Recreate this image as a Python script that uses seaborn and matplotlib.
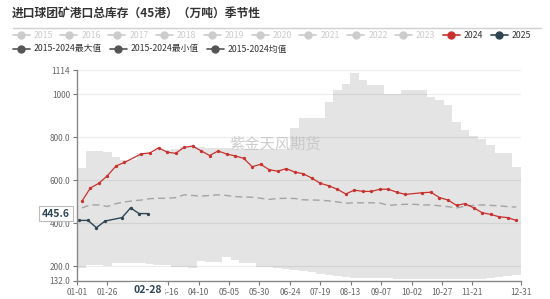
import numpy as np
import pandas as pd
import matplotlib
matplotlib.use("Agg")
import matplotlib.pyplot as plt
import seaborn as sns
from matplotlib.lines import Line2D
from matplotlib.transforms import blended_transform_factory

# ---------------- data ----------------
title = "进口球团矿港口总库存（45港）（万吨）季节性"
watermark = "紫金天风期货"

week_dates = ["01-05", "01-12", "01-19", "01-26", "02-02", "02-09", "02-16", "02-23",
              "03-01", "03-08", "03-15", "03-22", "03-29", "04-05", "04-12", "04-19",
              "04-26", "05-03", "05-10", "05-17", "05-24", "05-31", "06-07", "06-14",
              "06-21", "06-28", "07-05", "07-12", "07-19", "07-26", "08-02", "08-09",
              "08-16", "08-23", "08-30", "09-06", "09-13", "09-20", "09-27", "10-04",
              "10-11", "10-18", "10-25", "11-01", "11-08", "11-15", "11-22", "11-29",
              "12-06", "12-13", "12-20", "12-27"]

max_vals = [659, 737, 737, 733, 707, 695, 695, 730, 730, 740, 740, 745, 755, 755, 755, 752,
            750, 750, 748, 748, 745, 745, 745, 745, 745, 843, 889, 889, 889, 966, 1021, 1049,
            1098, 1067, 1044, 1044, 1001, 1001, 1021, 1021, 1021, 987, 974, 951, 873, 835,
            807, 791, 765, 726, 726, 664]
min_vals = [191, 206, 206, 203, 217, 217, 214, 214, 211, 206, 206, 199, 199, 191, 226, 222,
            222, 242, 230, 217, 217, 199, 199, 191, 188, 185, 180, 172, 165, 160, 155, 150,
            148, 146, 145, 145, 145, 143, 142, 142, 142, 142, 142, 142, 142, 142, 142, 142,
            145, 150, 155, 160]
avg_vals = [472, 486, 486, 479, 492, 500, 505, 509, 515, 517, 517, 520, 533, 530, 527, 530,
            533, 530, 525, 523, 522, 517, 512, 516, 517, 516, 510, 509, 508, 505, 500, 494,
            496, 496, 496, 495, 484, 487, 489, 489, 486, 486, 482, 478, 472, 480, 484, 486,
            484, 482, 478, 476]

dates_2024 = ["01-05", "01-12", "01-19", "01-26", "02-02", "02-09", "02-23",
              "03-01", "03-08", "03-15", "03-22", "03-29", "04-05", "04-12", "04-19",
              "04-26", "05-03", "05-10", "05-17", "05-24", "05-31", "06-07", "06-14",
              "06-21", "06-28", "07-05", "07-12", "07-19", "07-26", "08-02", "08-09",
              "08-16", "08-23", "08-30", "09-06", "09-13", "09-20", "09-27",
              "10-11", "10-18", "10-25", "11-01", "11-08", "11-15", "11-22", "11-29",
              "12-06", "12-13", "12-20", "12-27"]
vals_2024 = [503, 565, 587, 622, 667, 684, 724, 728, 752, 732, 726, 754, 760, 738, 716, 737,
             723, 714, 703, 664, 675, 650, 643, 655, 639, 631, 611, 587, 575, 559, 537, 555,
             549, 549, 559, 559, 545, 535, 543, 545, 520, 509, 484, 492, 473, 450, 442, 431,
             427, 414]

dates_2025 = ["01-03", "01-10", "01-17", "01-24", "02-07", "02-14", "02-21", "02-28"]
vals_2025 = [414, 414, 380, 411, 427, 472, 446, 445.6]

x_tick_dates = ["01-01", "01-26", "02-20", "03-16", "04-10", "05-05", "05-30", "06-24",
                "07-19", "08-13", "09-07", "10-02", "10-27", "11-21", "12-31"]
# the 02-20 label is hidden under the axis-pointer label in the reference
x_tick_labels = ["01-01", "01-26", "", "03-16", "04-10", "05-05", "05-30", "06-24",
                 "07-19", "08-13", "09-07", "10-02", "10-27", "11-21", "12-31"]
y_ticks = [132, 200, 400, 600, 800, 1000, 1114]
y_tick_labels = ["132.0", "200.0", "400.0", "600.0", "800.0", "1000", "1114"]

legend_years = ["2015", "2016", "2017", "2018", "2019", "2020", "2021", "2022", "2023",
                "2024", "2025"]
stat_labels = ["2015-2024最大值", "2015-2024最小值", "2015-2024均值"]
pointer_date = "02-28"
pointer_value = 445.6

# ---------------- helpers ----------------
def doy(mmdd):
    return pd.Timestamp("2024-" + mmdd).dayofyear - 1

# ---------------- style ----------------
sns.set_theme(style="white")
plt.rcParams["font.family"] = ["Noto Sans CJK SC", "DejaVu Sans"]
plt.rcParams["axes.unicode_minus"] = False

W, H = 550, 299
fig = plt.figure(figsize=(W / 100, H / 100), dpi=100)
ax = fig.add_axes([77 / W, 1 - 281 / H, (521 - 77) / W, (281 - 70) / H])

RED = "#c8312e"
NAVY = "#2f4554"
BAND = "#e4e4e4"

# band (max/min) as steps
wx = np.array([doy(d) for d in week_dates], dtype=float)
edges = np.concatenate([[0], (wx[:-1] + wx[1:]) / 2, [365]])
ymax = np.concatenate([max_vals, [max_vals[-1]]])
ymin = np.concatenate([min_vals, [min_vals[-1]]])
ax.fill_between(edges, ymin, ymax, step="post", color=BAND, lw=0, zorder=1)

# grid
for yt in y_ticks:
    ax.axhline(yt, color=(0, 0, 0, 0.07), lw=0.9, zorder=1.5)

# avg dashed
df_avg = pd.DataFrame({"x": wx, "y": avg_vals})
sns.lineplot(data=df_avg, x="x", y="y", ax=ax, color="#a4a4a4", lw=1.0,
             linestyle=(0, (5, 3)), zorder=3)

# 2024
df24 = pd.DataFrame({"x": [doy(d) for d in dates_2024], "y": vals_2024})
sns.lineplot(data=df24, x="x", y="y", ax=ax, color=RED, lw=0.9, marker="o",
             markersize=2.4, markeredgewidth=0, zorder=4)
# 2025
df25 = pd.DataFrame({"x": [doy(d) for d in dates_2025], "y": vals_2025})
sns.lineplot(data=df25, x="x", y="y", ax=ax, color=NAVY, lw=1.0, marker="o",
             markersize=2.4, markeredgewidth=0, zorder=5)

ax.set_xlim(0, 365)
ax.set_ylim(132, 1114)
ax.set_xlabel("")
ax.set_ylabel("")
ax.set_xticks([doy(d) for d in x_tick_dates])
ax.set_xticklabels(x_tick_labels)
ax.set_yticks(y_ticks)
ax.set_yticklabels(y_tick_labels)
ax.tick_params(axis="both", which="both", length=3, width=0.8, color="#777",
               labelcolor="#666", labelsize=6, pad=2, direction="out")
ax.tick_params(axis="y", left=True)
ax.tick_params(axis="x", bottom=True)
for s in ["top", "right"]:
    ax.spines[s].set_visible(False)
for s in ["left", "bottom"]:
    ax.spines[s].set_color("#888")
    ax.spines[s].set_linewidth(1.0)
    ax.spines[s].set_zorder(6)

# axis pointer labels
tr = blended_transform_factory(ax.transAxes, ax.transData)
ax.text(-7 / 444, pointer_value, f"{pointer_value}", transform=tr, ha="right", va="center",
        fontsize=7.5, fontweight="bold", color=NAVY, zorder=10, clip_on=False,
        bbox=dict(boxstyle="square,pad=0.25", fc="white", ec="#bbbbbb", lw=0.8))
tr2 = blended_transform_factory(ax.transData, ax.transAxes)
ax.text(doy(pointer_date), -9 / 211, pointer_date, transform=tr2, ha="center", va="center",
        fontsize=7.5, fontweight="bold", color=NAVY, zorder=10, clip_on=False,
        bbox=dict(boxstyle="square,pad=0.3", fc="white", ec="none"))

# watermark
fig.text(275 / W, 1 - 144 / H, watermark, fontsize=11, color="#c4c4c4", alpha=0.85,
         ha="center", va="center", zorder=2)

# title
fig.text(12 / W, 1 - 13 / H, title, fontsize=8.5, fontweight="bold", color="#333",
         ha="left", va="center")
fig.add_artist(Line2D([13 / W, 541 / W], [1 - 28 / H] * 2, color="#d0d0d0", lw=1.0,
                      transform=fig.transFigure))

# legend
def legend_item(xc, yc, color, label, tcolor):
    yf = 1 - yc / H
    fig.add_artist(Line2D([(xc - 8.5) / W, (xc + 8.5) / W], [yf, yf], color=color, lw=1.2,
                          transform=fig.transFigure))
    fig.add_artist(Line2D([xc / W], [yf], marker="o", ms=5, color=color, mec=color,
                          lw=0, transform=fig.transFigure))
    fig.text((xc + 12.5) / W, yf, label, color=tcolor, fontsize=6.3, va="center", ha="left")

for i, lab in enumerate(legend_years):
    if lab == "2024":
        c, tc = RED, "#333"
    elif lab == "2025":
        c, tc = NAVY, "#333"
    else:
        c, tc = "#cccccc", "#cccccc"
    legend_item(21 + i * 47.8, 35, c, lab, tc)

for i, lab in enumerate(stat_labels):
    legend_item(21 + i * 97, 49, "#555555", lab, "#333")

fig.savefig("out.png", dpi=100)
